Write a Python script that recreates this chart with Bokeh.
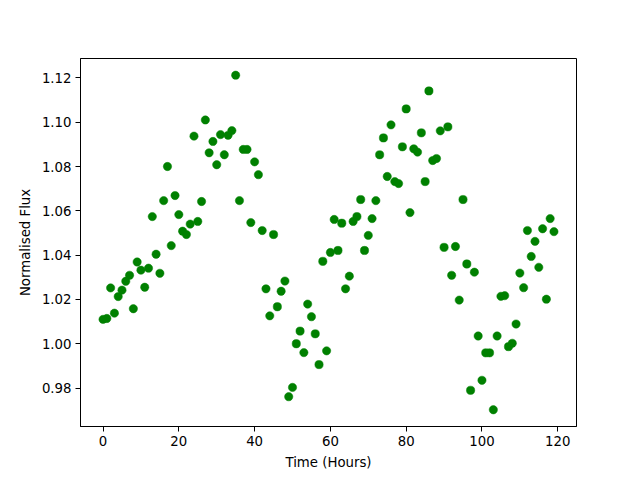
from bokeh.plotting import figure
from bokeh.models import Range1d, FixedTicker, PrintfTickFormatter
from bokeh.embed import file_html
from bokeh.resources import INLINE

hours = [0, 1, 2, 3, 4, 5, 6, 7, 8, 9, 10, 11, 12, 13, 14, 15, 16, 17, 18, 19,
         20, 21, 22, 23, 24, 25, 26, 27, 28, 29, 30, 31, 32, 33, 34, 35, 36, 37, 38, 39,
         40, 41, 42, 43, 44, 45, 46, 47, 48, 49, 50, 51, 52, 53, 54, 55, 56, 57, 58, 59,
         60, 61, 62, 63, 64, 65, 66, 67, 68, 69, 70, 71, 72, 73, 74, 75, 76, 77, 78, 79,
         80, 81, 82, 83, 84, 85, 86, 87, 88, 89, 90, 91, 92, 93, 94, 95, 96, 97, 98, 99,
         100, 101, 102, 103, 104, 105, 106, 107, 108, 109, 110, 111, 112, 113, 114, 115, 116, 117, 118, 119]

flux = [1.0110, 1.0114, 1.0252, 1.0138, 1.0213, 1.0242, 1.0282, 1.0309, 1.0158, 1.0369,
        1.0332, 1.0255, 1.0341, 1.0574, 1.0404, 1.0318, 1.0646, 1.0800, 1.0443, 1.0669,
        1.0583, 1.0508, 1.0493, 1.0540, 1.0937, 1.0552, 1.0642, 1.1010, 1.0862, 1.0913,
        1.0808, 1.0944, 1.0853, 1.0941, 1.0962, 1.1212, 1.0646, 1.0877, 1.0877, 1.0547,
        1.0821, 1.0763, 1.0511, 1.0248, 1.0126, 1.0493, 1.0167, 1.0237, 1.0283, 0.9761,
        0.9803, 1.0000, 1.0057, 0.9960, 1.0179, 1.0122, 1.0045, 0.9906, 1.0372, 0.9968,
        1.0412, 1.0561, 1.0421, 1.0544, 1.0248, 1.0305, 1.0552, 1.0574, 1.0651, 1.0421,
        1.0489, 1.0565, 1.0646, 1.0853, 1.0929, 1.0755, 1.0988, 1.0732, 1.0723, 1.0889,
        1.1060, 1.0592, 1.0880, 1.0865, 1.0952, 1.0732, 1.1141, 1.0827, 1.0836, 1.0961,
        1.0435, 1.0979, 1.0309, 1.0439, 1.0197, 1.0651, 1.0360, 0.9790, 1.0323, 1.0035,
        0.9835, 0.9959, 0.9959, 0.9702, 1.0035, 1.0214, 1.0217, 0.9987, 1.0002, 1.0089,
        1.0319, 1.0253, 1.0511, 1.0394, 1.0462, 1.0345, 1.0519, 1.0201, 1.0565, 1.0506]

x_ticks = [0, 20, 40, 60, 80, 100, 120]
y_ticks = [0.98, 1.00, 1.02, 1.04, 1.06, 1.08, 1.10, 1.12]

x_lo, x_hi = min(hours), max(hours)
y_lo, y_hi = min(flux), max(flux)
xm = 0.05 * (x_hi - x_lo)
ym = 0.05 * (y_hi - y_lo)

p = figure(width=640, height=480, output_backend="svg", toolbar_location=None,
           x_range=Range1d(x_lo - xm, x_hi + xm), y_range=Range1d(y_lo - ym, y_hi + ym),
           min_border_left=80, min_border_right=64, min_border_top=58, min_border_bottom=54)

p.scatter(hours, flux, size=8.3, fill_color="#008000", line_color="#008000", line_width=0.5)

p.xgrid.visible = False
p.ygrid.visible = False
p.outline_line_color = "black"
p.outline_line_width = 1
p.background_fill_color = "white"
p.border_fill_color = "white"

p.xaxis.ticker = FixedTicker(ticks=x_ticks)
p.yaxis.ticker = FixedTicker(ticks=y_ticks)
p.yaxis.formatter = PrintfTickFormatter(format="%.2f")
p.xaxis.axis_label = "Time (Hours)"
p.yaxis.axis_label = "Normalised Flux"

for ax in (p.xaxis, p.yaxis):
    ax.axis_line_color = "black"
    ax.major_tick_line_color = "black"
    ax.minor_tick_line_color = None
    ax.major_tick_out = 5
    ax.major_tick_in = 0
    ax.major_label_standoff = 4
    ax.major_label_text_font = "DejaVu Sans"
    ax.major_label_text_font_size = "13.3px"
    ax.major_label_text_color = "black"
    ax.axis_label_text_font = "DejaVu Sans"
    ax.axis_label_text_font_size = "13.3px"
    ax.axis_label_text_font_style = "normal"
    ax.axis_label_text_color = "black"
    ax.axis_label_standoff = 6

open("out.html", "w").write(file_html(p, INLINE))
